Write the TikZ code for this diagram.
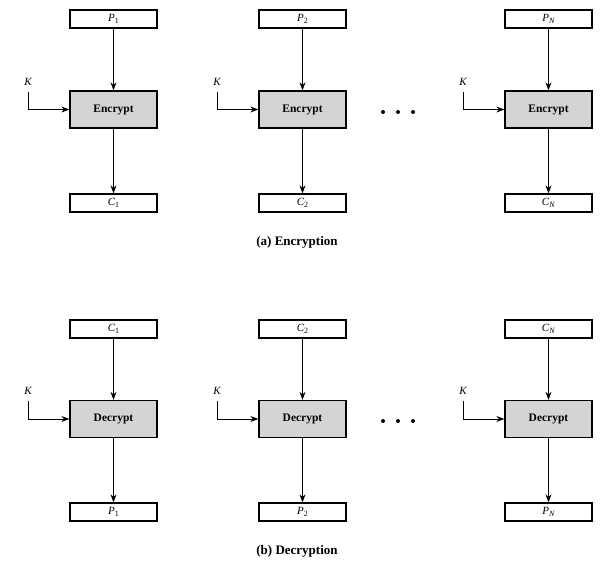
\documentclass[tikz,border=0pt]{standalone}
\usepackage{fontspec}
\setmainfont{Liberation Serif}
\usetikzlibrary{arrows.meta}
\newcommand{\lbl}[2]{\textit{#1}\raisebox{-0.4ex}{\fontsize{8}{9}\selectfont #2}}
\tikzset{
  io/.style={draw, line width=1.3pt, minimum width=87pt, minimum height=18pt, inner sep=0pt, font=\fontsize{11}{12}\selectfont},
  op/.style={draw, line width=1.3pt, fill=black!17, minimum width=87pt, minimum height=37pt, inner sep=0pt, font=\fontsize{11.5}{13}\selectfont\bfseries},
  arr/.style={line width=1pt, -{Stealth[length=8pt,width=6pt]}},
  klab/.style={font=\fontsize{11}{12}\selectfont\itshape, inner sep=0pt},
  captext/.style={font=\fontsize{13}{15}\selectfont\bfseries},
  dotnode/.style={circle, fill=black, inner sep=0pt, minimum size=4pt}
}
\begin{document}
\begin{tikzpicture}[x=1pt,y=-1pt]
\useasboundingbox (0,0) rectangle (600,569);
% ---------- Encryption ----------
\foreach \n/\cx/\pl/\cl in {1/113.5/{\lbl{P}{1}}/{\lbl{C}{1}}, 2/302.5/{\lbl{P}{2}}/{\lbl{C}{2}}, 3/548.5/{\lbl{P}{\textit{N}}}/{\lbl{C}{\textit{N}}}}{
  \node[io] (ep\n) at (\cx,19) {\pl};
  \node[op] (ee\n) at (\cx,109.5) {Encrypt};
  \node[io] (ec\n) at (\cx,203) {\cl};
  \coordinate (ek\n) at (\cx-85.5,92);
  \node[klab, anchor=south] (ekl\n) at (\cx-85.5,86) {K};
  \draw[arr] (ep\n) -- (ee\n);
  \draw[arr] (ee\n) -- (ec\n);
  \draw[arr] (ek\n) |- (ee\n.west);
}
\node[dotnode] (ed1) at (383,112) {};
\node[dotnode] (ed2) at (398,112) {};
\node[dotnode] (ed3) at (413,112) {};
\node[captext] (capa) at (297,242) {(a) Encryption};
% ---------- Decryption ----------
\foreach \n/\cx/\pl/\cl in {1/113.5/{\lbl{C}{1}}/{\lbl{P}{1}}, 2/302.5/{\lbl{C}{2}}/{\lbl{P}{2}}, 3/548.5/{\lbl{C}{\textit{N}}}/{\lbl{P}{\textit{N}}}}{
  \node[io] (dc\n) at (\cx,329) {\pl};
  \node[op] (dd\n) at (\cx,419) {Decrypt};
  \node[io] (dp\n) at (\cx,512) {\cl};
  \coordinate (dk\n) at (\cx-85.5,401);
  \node[klab, anchor=south] (dkl\n) at (\cx-85.5,395) {K};
  \draw[arr] (dc\n) -- (dd\n);
  \draw[arr] (dd\n) -- (dp\n);
  \draw[arr] (dk\n) |- (dd\n.west);
}
\node[dotnode] (dd4) at (383,421) {};
\node[dotnode] (dd5) at (398,421) {};
\node[dotnode] (dd6) at (413,421) {};
\node[captext] (capb) at (297,551) {(b) Decryption};
\end{tikzpicture}
\end{document}
